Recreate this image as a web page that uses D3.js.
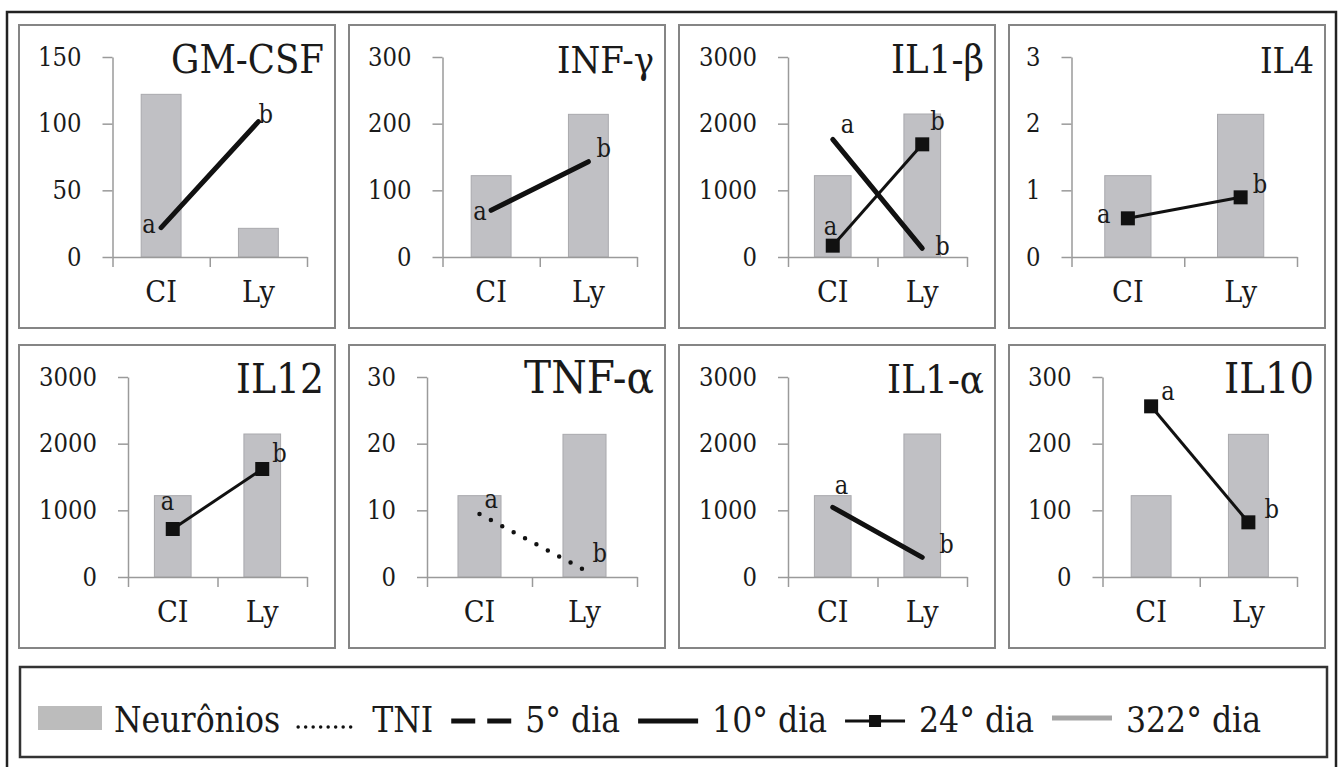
<!DOCTYPE html>
<html>
<head>
<meta charset="utf-8">
<script src="https://cdnjs.cloudflare.com/ajax/libs/d3/7.8.5/d3.min.js"></script>
<style>
  body { margin: 0; background: #fff; }
  svg { display: block; }
</style>
</head>
<body>
<div id="canvas"></div>
<script>
// data
const titles = ['GM-CSF', 'INF-γ', 'IL1-β', 'IL4', 'IL12', 'TNF-α', 'IL1-α', 'IL10']
const categories = ['CI', 'Ly']
const yMax = [150, 300, 3000, 3, 3000, 30, 3000, 300]
const yTicks = [
  [0, 50, 100, 150], [0, 100, 200, 300], [0, 1000, 2000, 3000], [0, 1, 2, 3],
  [0, 1000, 2000, 3000], [0, 10, 20, 30], [0, 1000, 2000, 3000], [0, 100, 200, 300]
]
const neuronios = [
  [122, 21.5], [122, 214], [1220, 2145], [1.22, 2.14],
  [1220, 2145], [12.2, 21.4], [1220, 2145], [122, 214]
]
const dia10 = [[22, 101.5], [70, 143], [1765, 130], null, null, null, [1045, 295], null]
const dia24 = [null, null, [170, 1690], [0.58, 0.895], [720, 1620], null, null, [256, 82]]
const tni   = [null, null, null, null, null, [9.45, 1.05], null, null]
const letters = ['a', 'b']

const legendItems = [
  {kind: 'bar', label: 'Neurônios'},
  {kind: 'tni', label: 'TNI'},
  {kind: 'd5', label: '5° dia'},
  {kind: 'd10', label: '10° dia'},
  {kind: 'd24', label: '24° dia'},
  {kind: 'd322', label: '322° dia'}
]

// layout bits (no Times here, so sizes are fitted to the widths seen in the figure)
const FONT = '"DejaVu Serif Condensed", "DejaVu Serif", serif'
const titleWidth = [153, 97, 93, 54, 88, 130, 97, 90]
const labelNudge = {
  '0d10': [[-19, 5], [0, 1]],
  '1d10': [[-18, 10], [8, -5]],
  '2d10': [[8, -6], [13, 7]],
  '2d24': [[-9, -11], [8, -14]],
  '3d24': [[-31, 5], [12, -4]],
  '4d24': [[-12, -19], [10, -7]],
  '5tni': [[5, -6], [8, -8]],
  '6d10': [[2, -13], [17, -4]],
  '7d24': [[10, -6], [16, -4]]
}

const width = 1341
const height = 767
const pw = 316, ph = 303

const svg = d3.select('#canvas')
  .append('svg')
  .attr('width', width)
  .attr('height', height)
  .attr('font-family', FONT)

// font size that gives a string a wanted width
const probe = svg.append('text').attr('font-size', 100).attr('fill', 'none').style('font-family', FONT)
function fitSize(str, w) {
  probe.text(str)
  return 100 * w / probe.node().getComputedTextLength()
}
const tickSize = fitSize('3000', 58)
const catSize = fitSize('Ly', 33)
const letterSize = fitSize('a', 13.5)
const legendSize = fitSize('322° dia', 135)
const titleSizes = titles.map((t, i) => fitSize(t, titleWidth[i]))
probe.remove()

// outer frame
svg.append('rect')
  .attr('x', 7).attr('y', 12)
  .attr('width', 1329).attr('height', 770)
  .attr('fill', 'none')
  .attr('stroke', '#222')
  .attr('stroke-width', 2.5)

const seriesList = [
  {key: 'd10', vals: dia10},
  {key: 'd24', vals: dia24},
  {key: 'tni', vals: tni}
]

titles.forEach((title, i) => {
  const px = 19 + (i % 4) * 330
  const py = 25 + Math.floor(i / 4) * 320
  const g = svg.append('g')

  g.append('rect')
    .attr('x', px).attr('y', py)
    .attr('width', pw).attr('height', ph)
    .attr('fill', 'none')
    .attr('stroke', '#858585')
    .attr('stroke-width', 2)

  const y0 = py + 232
  const left = px + 47 + String(yMax[i]).length * 15.5
  const right = px + 288

  const y = d3.scaleLinear().domain([0, yMax[i]]).range([y0, py + 32])
  const xEdge = d3.scaleLinear().domain([0, categories.length]).range([left, right])
  const xBar = d3.scaleBand().domain(categories).range([left, right])
    .paddingInner(0.59).paddingOuter(0.295)
  const xMid = d3.scalePoint().domain(categories).range([left, right]).padding(0.5)

  // bars
  g.selectAll('.bar')
    .data(categories.map((c, j) => ({c, v: neuronios[i][j]})))
    .join('rect')
    .attr('x', d => xBar(d.c))
    .attr('y', d => y(d.v))
    .attr('width', xBar.bandwidth())
    .attr('height', d => y0 - y(d.v))
    .attr('fill', '#c0c0c4')
    .attr('stroke', '#a9a9ad')
    .attr('stroke-width', 1)

  // axes
  const yAxis = g.append('g')
    .attr('transform', `translate(${left},0)`)
    .call(d3.axisLeft(y).tickValues(yTicks[i]).tickSize(10).tickSizeOuter(0)
      .tickPadding(21).tickFormat(d => d))
  yAxis.selectAll('path, line').attr('stroke', '#9a9a9a').attr('stroke-width', 1.5)
  yAxis.selectAll('text').attr('font-size', tickSize)

  const xAxis = g.append('g')
    .attr('transform', `translate(0,${y0})`)
    .call(d3.axisBottom(xEdge).tickValues(d3.range(categories.length + 1))
      .tickSize(10).tickSizeOuter(0).tickFormat(''))
  xAxis.selectAll('path, line').attr('stroke', '#9a9a9a').attr('stroke-width', 1.5)

  g.selectAll('.cat')
    .data(categories)
    .join('text')
    .attr('x', d => xMid(d))
    .attr('y', y0 + 45)
    .attr('text-anchor', 'middle')
    .attr('font-size', catSize)
    .text(d => d)

  g.append('text')
    .attr('x', px + pw - 11)
    .attr('y', py + 48)
    .attr('text-anchor', 'end')
    .attr('font-size', titleSizes[i])
    .text(title)

  // lines
  seriesList.forEach(s => {
    const vals = s.vals[i]
    if (!vals) return
    const pts = categories.map((c, j) => [xMid(c), y(vals[j])])
    const path = g.append('path')
      .attr('d', d3.line()(pts))
      .attr('fill', 'none')
      .attr('stroke', '#111')
    if (s.key === 'd10') {
      path.attr('stroke-width', 5).attr('stroke-linecap', 'round')
    } else if (s.key === 'd24') {
      path.attr('stroke-width', 3)
      g.selectAll('.mk' + i)
        .data(pts)
        .join('rect')
        .attr('x', d => d[0] - 7).attr('y', d => d[1] - 7)
        .attr('width', 14).attr('height', 14)
        .attr('fill', '#111')
    } else {
      path.attr('stroke-width', 4.5).attr('stroke-linecap', 'round')
        .attr('stroke-dasharray', '0 12.9')
    }
    const nudge = labelNudge[i + s.key]
    pts.forEach((p, j) => {
      g.append('text')
        .attr('x', p[0] + nudge[j][0])
        .attr('y', p[1] + nudge[j][1])
        .attr('font-size', letterSize)
        .text(letters[j])
    })
  })
})

// legend
const lg = svg.append('g')
lg.append('rect')
  .attr('x', 20).attr('y', 667)
  .attr('width', 1307).attr('height', 90)
  .attr('fill', 'none')
  .attr('stroke', '#333')
  .attr('stroke-width', 2.5)

let lx = 38
const symW = 64
const lineY = 721
legendItems.forEach(item => {
  if (item.kind === 'bar') {
    lg.append('rect').attr('x', lx).attr('y', 706).attr('width', symW).attr('height', 24)
      .attr('fill', '#bcbcbc')
  } else {
    const ly = item.kind === 'tni' ? 727 : (item.kind === 'd322' ? 718 : lineY)
    const ln = lg.append('line')
      .attr('x1', lx + 2).attr('x2', lx + symW - 2)
      .attr('y1', ly).attr('y2', ly)
      .attr('stroke', '#111')
    if (item.kind === 'tni') ln.attr('stroke-width', 3.5).attr('stroke-linecap', 'round').attr('stroke-dasharray', '0 7.5')
    if (item.kind === 'd5') ln.attr('stroke-width', 5).attr('stroke-dasharray', '24 12')
    if (item.kind === 'd10') ln.attr('stroke-width', 5)
    if (item.kind === 'd24') {
      ln.attr('stroke-width', 3)
      lg.append('rect').attr('x', lx + symW / 2 - 6).attr('y', ly - 6)
        .attr('width', 12).attr('height', 12).attr('fill', '#111')
    }
    if (item.kind === 'd322') ln.attr('stroke', '#a6a6a6').attr('stroke-width', 5)
  }
  lx += symW + 12
  const t = lg.append('text')
    .attr('x', lx).attr('y', 732)
    .attr('font-size', legendSize)
    .text(item.label)
  lx += t.node().getComputedTextLength() + 16
})

svg.selectAll('text')
  .style('font-family', FONT)
  .attr('fill', '#1a1a1a')
</script>
</body>
</html>
